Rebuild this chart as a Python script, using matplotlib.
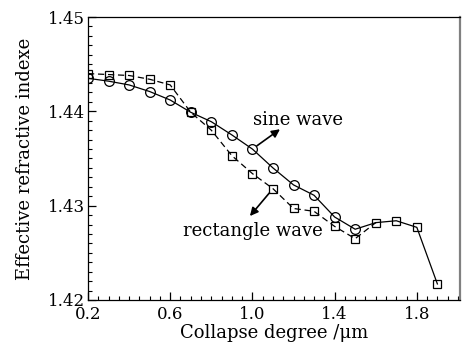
import matplotlib
matplotlib.use("Agg")
import matplotlib.pyplot as plt
from matplotlib.ticker import MultipleLocator

# collapse degree (um)
x_sine = [0.2, 0.3, 0.4, 0.5, 0.6, 0.7, 0.8, 0.9, 1.0, 1.1, 1.2, 1.3, 1.4, 1.5]
y_sine = [1.4435, 1.4432, 1.4428, 1.4421, 1.4412, 1.4399, 1.4389, 1.4375,
          1.4360, 1.4340, 1.4322, 1.4311, 1.4288, 1.4275]

x_rect = [0.2, 0.3, 0.4, 0.5, 0.6, 0.7, 0.8, 0.9, 1.0, 1.1, 1.2, 1.3, 1.4, 1.5]
y_rect = [1.4440, 1.4439, 1.4438, 1.4434, 1.4428, 1.4399, 1.4380, 1.4353,
          1.4334, 1.4318, 1.4297, 1.4294, 1.4278, 1.4265]

# common tail (both structures merge)
x_tail = [1.6, 1.7, 1.8, 1.9]
y_tail = [1.4282, 1.4284, 1.4277, 1.4217]

x_ticks = [0.2, 0.6, 1.0, 1.4, 1.8]
y_ticks = [1.42, 1.43, 1.44, 1.45]

plt.rcParams['font.family'] = ['DejaVu Serif']
plt.rcParams['mathtext.fontset'] = 'dejavuserif'

fig = plt.figure(figsize=(4.69, 3.5), dpi=100)
ax = fig.add_axes([0.1876, 0.1429, 0.7932, 0.8085])

ax.plot(x_sine + x_tail[:1], y_sine + y_tail[:1], color="black", lw=0.9,
        zorder=2)
ax.plot(x_rect + x_tail[:1], y_rect + y_tail[:1], color="black", lw=0.9,
        ls=(0, (5, 3)), zorder=2)
ax.plot(x_tail, y_tail, color="black", lw=0.9, zorder=2)

ax.plot(x_sine, y_sine, "o", ms=7, mfc="none", mec="black", mew=0.9, zorder=3)
ax.plot(x_rect, y_rect, "s", ms=6, mfc="none", mec="black", mew=0.9, zorder=3)
ax.plot(x_tail, y_tail, "s", ms=6, mfc="none", mec="black", mew=0.9, zorder=3)

arrow = dict(arrowstyle="-|>", color="black", lw=1.2, mutation_scale=12,
             shrinkA=4, shrinkB=0)
ax.annotate("", xy=(1.134, 1.4381), xytext=(x_sine[8], y_sine[8]),
            arrowprops=arrow)
ax.text(1.221, 1.4391, "sine wave", fontsize=13, ha="center", va="center")

ax.annotate("", xy=(0.988, 1.4289), xytext=(x_rect[9], y_rect[9]),
            arrowprops=arrow)
ax.text(1.003, 1.4273, "rectangle wave", fontsize=13, ha="center",
        va="center")

ax.set_xlim(0.2, 2.01)
ax.set_ylim(1.42, 1.45)
ax.set_xticks(x_ticks)
ax.set_yticks(y_ticks)
ax.xaxis.set_minor_locator(MultipleLocator(0.05))
ax.yaxis.set_minor_locator(MultipleLocator(0.001))
ax.set_xticklabels([f"{v:.1f}" for v in x_ticks])
ax.set_yticklabels([f"{v:.2f}" for v in y_ticks])
ax.tick_params(which="both", direction="in", top=False, right=False,
               labelsize=12)
ax.tick_params(axis="x", pad=4)
ax.tick_params(axis="y", pad=2)
ax.tick_params(which="major", length=6, width=0.9)
ax.tick_params(which="minor", length=3, width=0.8)

ax.spines["right"].set_color("#808080")
ax.spines["right"].set_linewidth(1.6)
for s in ["left", "bottom", "top"]:
    ax.spines[s].set_linewidth(0.9)

ax.set_xlabel("Collapse degree /μm", fontsize=13, labelpad=1)
ax.set_ylabel("Effective refractive indexe", fontsize=13, labelpad=10)

fig.savefig("out.png", dpi=100)
